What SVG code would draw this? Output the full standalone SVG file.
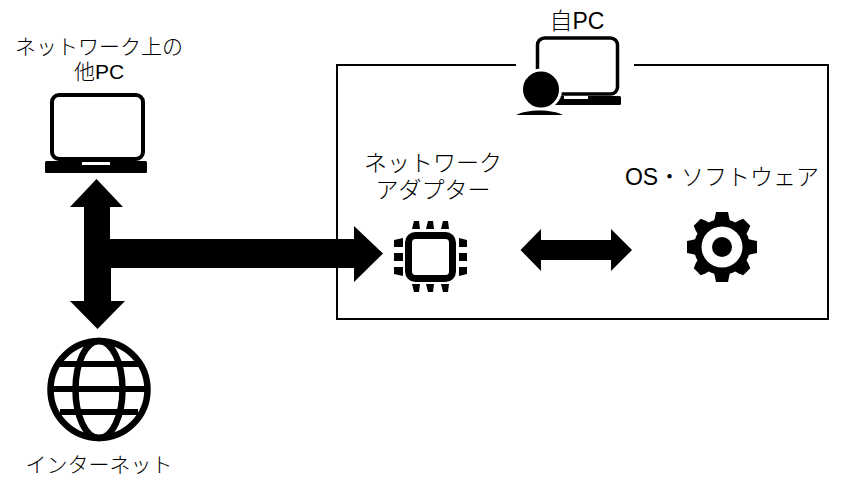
<svg xmlns="http://www.w3.org/2000/svg" width="843" height="493" viewBox="0 0 843 493">
<style>
text{font-family:"Liberation Sans","Noto Sans CJK JP",sans-serif;font-size:21px;fill:#000;text-anchor:middle;font-weight:300}
.b{font-size:23px}
.k{fill:#000;stroke:none}
.w{fill:#fff;stroke:none}
.o{fill:none;stroke:#000}
</style>
<rect width="843" height="493" fill="#fff"/>
<g id="connectors">
<path class="k" d="M96.500 179L123 207L110 207L110 239L354 239L354 226L383 253.500L354 282L354 268L111 268L111 301L125 301L97.500 329L70 301L84 301L84 207L70 207Z"/>
<path class="k" d="M520.500 250L541 229L541 240L611 240L611 229L632 250L611 271L611 260L541 260L541 271Z"/>
</g>
<g id="own-pc-frame">
<path class="o" stroke-width="2" d="M516 65H337V319H828V65H634"/>
</g>
<g id="other-pc">
<text x="99" y="54">ネットワーク上の<tspan x="99" dy="25">他PC</tspan></text>
<rect class="o" x="52" y="95" width="91" height="64" rx="7" stroke-width="4"/>
<rect class="k" x="45" y="161" width="102" height="12" rx="1.500"/>
<rect class="w" x="82" y="162" width="28" height="3"/>
</g>
<g id="own-pc">
<text class="b" x="577" y="29">自PC</text>
<rect class="o" x="537.500" y="38" width="80" height="56" rx="7" stroke-width="3.500"/>
<rect class="k" x="553" y="96" width="68" height="9" rx="1.500"/>
<rect class="w" x="564" y="96" width="24" height="3"/>
<circle cx="541" cy="89.500" r="19.500" fill="#000" stroke="#fff" stroke-width="3"/>
<path class="k" d="M516 115C527 109 552 109 563 115Z"/>
</g>
<g id="network-adapter">
<text class="b" x="433" y="171">ネットワーク<tspan x="433" dy="27">アダプター</tspan></text>
<rect class="o" x="408.500" y="235.500" width="44" height="43" rx="7" stroke-width="7"/>
<path class="k" d="M414 221H419L420 229H412ZM428 221H433L434 229H426ZM443 221H448L449 229H441Z"/>
<path class="k" d="M412 284H420L419 292H414ZM426 284H434L433 292H428ZM441 284H449L448 292H443Z"/>
<path class="k" d="M394 240L403 238V247H394ZM394 253H403V261H394ZM394 267H403V276L394 274Z"/>
<path class="k" d="M459 238L467 240V247H459ZM459 253H467V261H459ZM459 267H467V274L459 276Z"/>
</g>
<g id="os-software">
<text class="b" x="722" y="185">OS・ソフトウェア</text>
<g transform="translate(722 247)">
<circle class="k" r="28"/>
<path class="k" d="M-7 -30L-6 -35H6L7 -30L9 -22H-9Z"/>
<path class="k" transform="rotate(45)" d="M-7 -30L-5 -35H5L7 -30L9 -22H-9Z"/>
<path class="k" transform="rotate(90)" d="M-7 -30L-6 -35H6L7 -30L9 -22H-9Z"/>
<path class="k" transform="rotate(135)" d="M-7 -30L-5 -35H5L7 -30L9 -22H-9Z"/>
<path class="k" transform="rotate(180)" d="M-7 -30L-6 -35H6L7 -30L9 -22H-9Z"/>
<path class="k" transform="rotate(225)" d="M-7 -30L-5 -35H5L7 -30L9 -22H-9Z"/>
<path class="k" transform="rotate(270)" d="M-7 -30L-6 -35H6L7 -30L9 -22H-9Z"/>
<path class="k" transform="rotate(315)" d="M-7 -30L-5 -35H5L7 -30L9 -22H-9Z"/>
<circle class="w" r="20.500"/>
<circle class="k" r="10"/>
</g>
</g>
<g id="internet">
<circle class="o" cx="99" cy="389.500" r="48.500" stroke-width="6.500"/>
<ellipse class="o" cx="99" cy="389.500" rx="23.500" ry="48.500" stroke-width="6.500"/>
<path class="o" stroke-width="6" d="M60 364H138M51 389H147M60 412H138"/>
<text x="99" y="472">インターネット</text>
</g>
</svg>
